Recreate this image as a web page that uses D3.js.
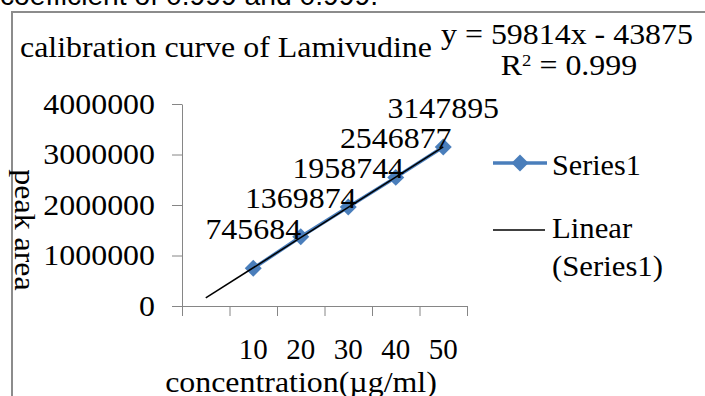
<!DOCTYPE html>
<html>
<head>
<meta charset="utf-8">
<script src="https://cdn.jsdelivr.net/npm/d3@7"></script>
<style>
  body { margin: 0; background: #fff; }
  svg { display: block; }
  text { font-family: "Liberation Serif", "Times New Roman", serif; fill: #000; }
</style>
</head>
<body>
<div id="chart"></div>
<script>
// chart values
var categories = ["", "10", "20", "30", "40", "50"];
var peakArea = [null, 745684, 1369874, 1958744, 2546877, 3147895];
var yTicks = [0, 1000000, 2000000, 3000000, 4000000];
var seriesName = "Series1";
var trendName = ["Linear", "(Series1)"];
var titleText = "calibration curve of Lamivudine";
var equationText = "y = 59814x - 43875";
var r2Value = "0.999";
var xTitle = "concentration(\u00b5g/ml)";
var yTitle = "peak area";
var pageText = "coefficient of 0.999 and 0.999.";

var W = 705, H = 396;
var blue = "#4a7ebb", axisColor = "#868686";

// stretch text a bit wider, the excel picture is wider than plain Times
function stretch(sel, k) {
  sel.each(function() {
    var w = this.getComputedTextLength();
    d3.select(this).attr("textLength", w * k).attr("lengthAdjust", "spacingAndGlyphs");
  });
}

var svg = d3.select("#chart").append("svg")
  .attr("width", W)
  .attr("height", H);

// bit of the page text above the chart, cut off
svg.append("text")
  .attr("x", 0).attr("y", 5)
  .style("font-family", "'Liberation Sans', Arial, sans-serif")
  .style("font-size", "28px")
  .attr("textLength", 378).attr("lengthAdjust", "spacingAndGlyphs")
  .text(pageText);

// chart border (runs off to the right and bottom)
svg.append("path")
  .attr("d", "M12," + H + "V12H" + W)
  .attr("fill", "none")
  .attr("stroke", "#8c8c8c")
  .attr("stroke-width", 2);

var x = d3.scaleBand()
  .domain(d3.range(categories.length))
  .range([182, 467]);
var xEdge = d3.scaleLinear()
  .domain([0, categories.length])
  .range([182, 467]);
var y = d3.scaleLinear()
  .domain([0, 4000000])
  .range([306, 104]);

function cx(i) { return x(i) + x.bandwidth() / 2; }

// y axis
var yAxis = d3.axisLeft(y)
  .tickValues(yTicks)
  .tickSize(10)
  .tickSizeOuter(0)
  .tickPadding(17)
  .tickFormat(d3.format("d"));
var gy = svg.append("g").attr("transform", "translate(182,0)").call(yAxis);
gy.selectAll("path, line").attr("stroke", axisColor);
gy.selectAll("text")
  .style("font-family", "'Liberation Serif', 'Times New Roman', serif")
  .style("font-size", "29px")
  .attr("fill", "#000")
  .call(stretch, 1.1);

// x axis, ticks between categories
var xAxis = d3.axisBottom(xEdge)
  .tickValues(d3.range(categories.length + 1))
  .tickSize(10)
  .tickSizeOuter(0)
  .tickFormat("");
var gx = svg.append("g").attr("transform", "translate(0,306)").call(xAxis);
gx.selectAll("path, line").attr("stroke", axisColor);

svg.selectAll(".xlab")
  .data(categories)
  .enter()
  .append("text")
  .attr("class", "xlab")
  .attr("x", function(d, i) { return cx(i); })
  .attr("y", 359)
  .attr("text-anchor", "middle")
  .style("font-size", "29px")
  .text(function(d) { return d; });

// axis titles
svg.append("text")
  .attr("x", 301).attr("y", 392)
  .attr("text-anchor", "middle")
  .style("font-size", "29px")
  .text(xTitle)
  .call(stretch, 1.1);

svg.append("text")
  .attr("transform", "translate(15,230) rotate(90)")
  .attr("text-anchor", "middle")
  .style("font-size", "29px")
  .text(yTitle)
  .call(stretch, 1.1);

// title
svg.append("text")
  .attr("x", 20).attr("y", 57)
  .style("font-size", "29px")
  .text(titleText)
  .call(stretch, 1.1);

// data
var pts = [];
peakArea.forEach(function(v, i) { if (v != null) pts.push({ i: i, v: v }); });

var line = d3.line()
  .x(function(d) { return cx(d.i); })
  .y(function(d) { return y(d.v); });

svg.append("path")
  .datum(pts)
  .attr("d", line)
  .attr("fill", "none")
  .attr("stroke", blue)
  .attr("stroke-width", 3.5);

var marker = d3.symbol().type(d3.symbolSquare).size(144);
svg.selectAll(".mark")
  .data(pts)
  .enter()
  .append("path")
  .attr("class", "mark")
  .attr("d", marker)
  .attr("transform", function(d) { return "translate(" + cx(d.i) + "," + y(d.v) + ") rotate(45)"; })
  .attr("fill", blue);

// linear trendline, least squares on the category index
var mx = d3.mean(pts, function(d) { return d.i; });
var my = d3.mean(pts, function(d) { return d.v; });
var sxy = d3.sum(pts, function(d) { return (d.i - mx) * (d.v - my); });
var sxx = d3.sum(pts, function(d) { return (d.i - mx) * (d.i - mx); });
var slope = sxy / sxx, icept = my - slope * mx;
var trend = [0, categories.length - 1].map(function(i) { return { i: i, v: icept + slope * i }; });

svg.append("path")
  .datum(trend)
  .attr("d", line)
  .attr("fill", "none")
  .attr("stroke", "#000")
  .attr("stroke-width", 1.5);

// data labels
svg.selectAll(".dlab")
  .data(pts)
  .enter()
  .append("text")
  .attr("class", "dlab")
  .attr("x", function(d) { return cx(d.i); })
  .attr("y", function(d) { return y(d.v) - 29; })
  .attr("text-anchor", "middle")
  .style("font-size", "29px")
  .text(function(d) { return d.v; })
  .call(stretch, 1.1);

// equation and r squared
svg.append("text")
  .attr("x", 567).attr("y", 44)
  .attr("text-anchor", "middle")
  .style("font-size", "29px")
  .text(equationText)
  .call(stretch, 1.1);

var r2 = svg.append("text")
  .attr("x", 569).attr("y", 75)
  .attr("text-anchor", "middle")
  .style("font-size", "29px");
r2.append("tspan").text("R");
r2.append("tspan").attr("dy", -9).style("font-size", "17px").text("2");
r2.append("tspan").attr("dy", 9).text(" = " + r2Value);
r2.call(stretch, 1.1);

// legend
var lg = svg.append("g");
lg.append("line")
  .attr("x1", 493).attr("x2", 547).attr("y1", 163).attr("y2", 163)
  .attr("stroke", blue).attr("stroke-width", 3.5);
lg.append("path")
  .attr("d", marker)
  .attr("transform", "translate(520,163) rotate(45)")
  .attr("fill", blue);
lg.append("text")
  .attr("x", 552).attr("y", 175)
  .style("font-size", "29px")
  .text(seriesName)
  .call(stretch, 1.04);

lg.append("line")
  .attr("x1", 493).attr("x2", 545).attr("y1", 230).attr("y2", 230)
  .attr("stroke", "#000").attr("stroke-width", 1.5);
lg.selectAll(".tl")
  .data(trendName)
  .enter()
  .append("text")
  .attr("class", "tl")
  .attr("x", 552)
  .attr("y", function(d, i) { return 238 + i * 38; })
  .style("font-size", "29px")
  .text(function(d) { return d; })
  .call(stretch, 1.06);
</script>
</body>
</html>
